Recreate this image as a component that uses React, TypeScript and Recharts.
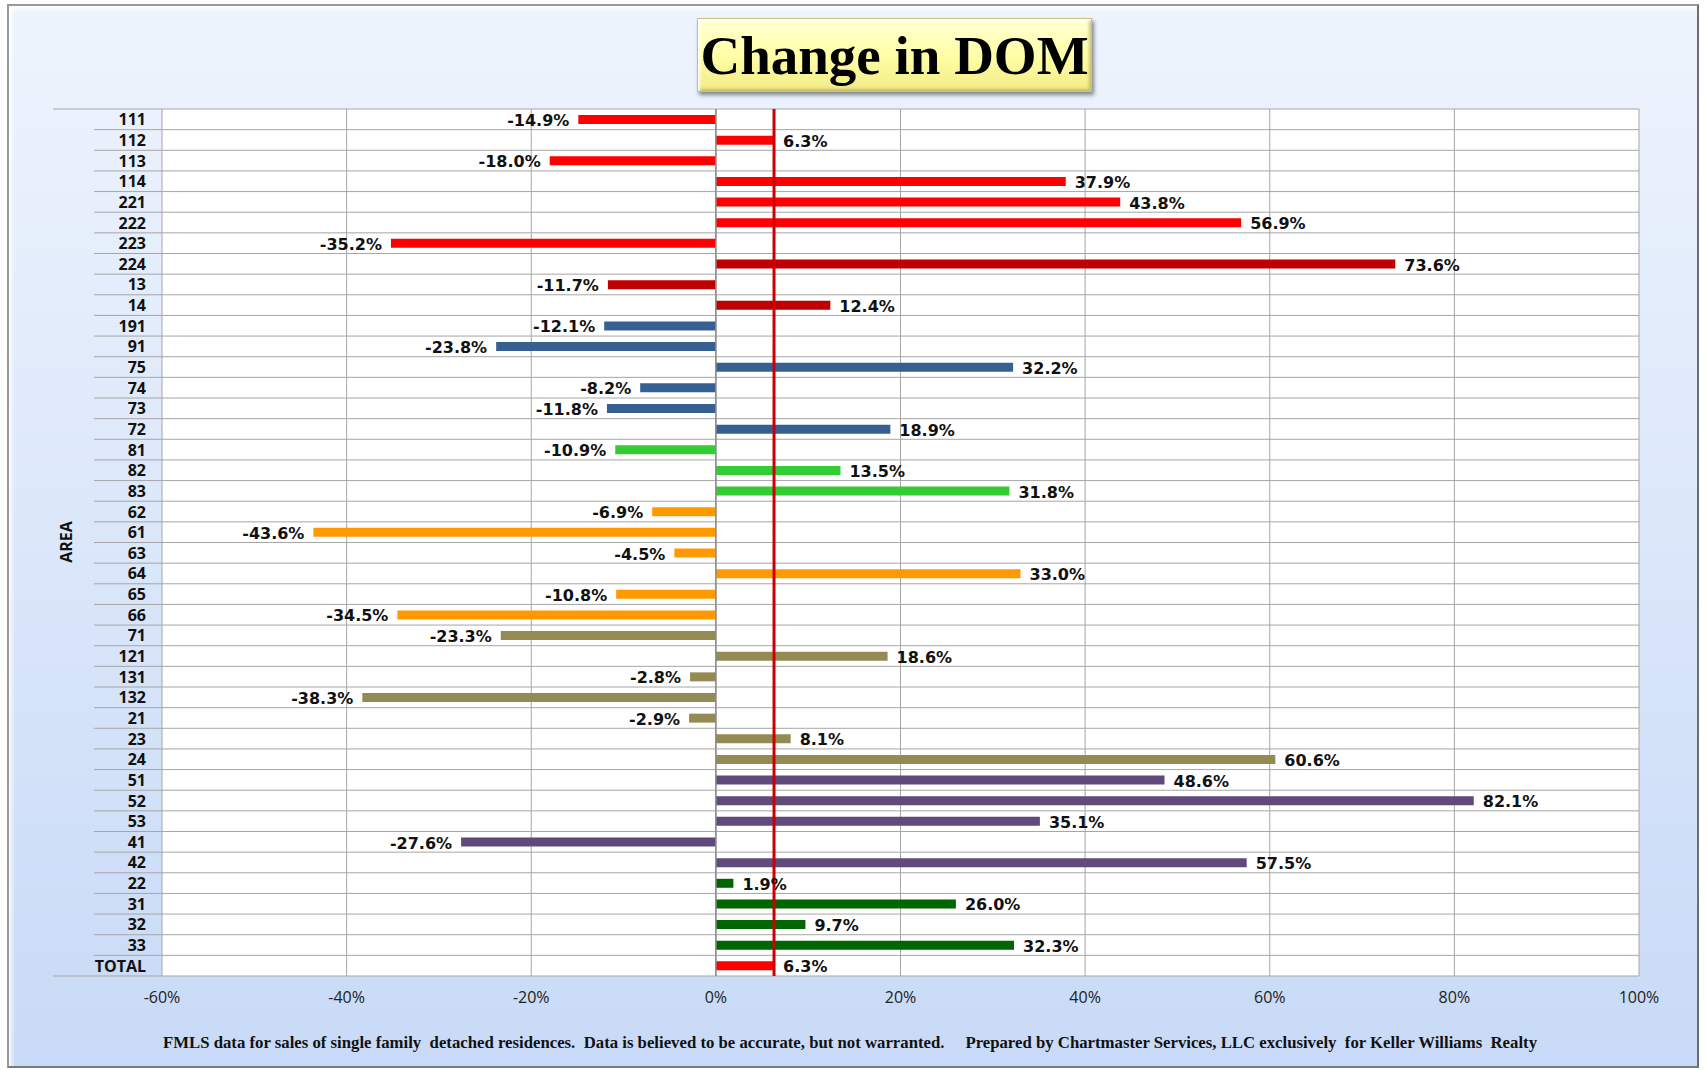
import React from 'react';
import {
  BarChart,
  Bar,
  XAxis,
  YAxis,
  CartesianGrid,
  Cell,
  LabelList,
  ReferenceLine,
} from 'recharts';

// Area codes, top to bottom as listed on the chart
const areas = [
  '111', '112', '113', '114', '221', '222', '223', '224', '13', '14',
  '191', '91', '75', '74', '73', '72', '81', '82', '83', '62',
  '61', '63', '64', '65', '66', '71', '121', '131', '132', '21',
  '23', '24', '51', '52', '53', '41', '42', '22', '31', '32',
  '33', 'TOTAL',
];

// Change in days on market (%)
const changes = [
  -14.9, 6.3, -18.0, 37.9, 43.8, 56.9, -35.2, 73.6, -11.7, 12.4,
  -12.1, -23.8, 32.2, -8.2, -11.8, 18.9, -10.9, 13.5, 31.8, -6.9,
  -43.6, -4.5, 33.0, -10.8, -34.5, -23.3, 18.6, -2.8, -38.3, -2.9,
  8.1, 60.6, 48.6, 82.1, 35.1, -27.6, 57.5, 1.9, 26.0, 9.7,
  32.3, 6.3,
];

const xTicks = [-60, -40, -20, 0, 20, 40, 60, 80, 100];

const footnote =
  'FMLS data for sales of single family  detached residences.  Data is believed to be accurate, but not warranted.     Prepared by Chartmaster Services, LLC exclusively  for Keller Williams  Realty';

// bar colours, one per row (styling only)
const RED = '#FF0000';
const DKRED = '#C00000';
const BLUE = '#376092';
const GREEN = '#33CC33';
const ORANGE = '#FF9900';
const OLIVE = '#948A54';
const PURPLE = '#604A7B';
const DKGREEN = '#006600';
const barColors = [
  RED, RED, RED, RED, RED, RED, RED, DKRED, DKRED, DKRED,
  BLUE, BLUE, BLUE, BLUE, BLUE, BLUE, GREEN, GREEN, GREEN, ORANGE,
  ORANGE, ORANGE, ORANGE, ORANGE, ORANGE, OLIVE, OLIVE, OLIVE, OLIVE, OLIVE,
  OLIVE, OLIVE, PURPLE, PURPLE, PURPLE, PURPLE, PURPLE, DKGREEN, DKGREEN, DKGREEN,
  DKGREEN, RED,
];

const data = areas.map((area, i) => ({ area, change: changes[i] }));

const W = 1706;
const H = 1070;
const PLOT_LEFT = 162;
const PLOT_RIGHT = 1639;
const PLOT_TOP = 109;
const PLOT_BOTTOM = 976;
const ROW_H = (PLOT_BOTTOM - PLOT_TOP) / areas.length;
const GRID = '#A6A6A6';

function AreaTick(props: any) {
  const { y, payload } = props;
  const idx = areas.indexOf(payload.value);
  const half = ROW_H / 2;
  const last = idx === areas.length - 1;
  return (
    <g>
      {idx === 0 && (
        <line x1={53} x2={PLOT_LEFT} y1={y - half} y2={y - half} stroke={GRID} />
      )}
      <line x1={last ? 53 : 94} x2={PLOT_LEFT} y1={y + half} y2={y + half} stroke={GRID} />
      <text
        x={146}
        y={y}
        textAnchor="end"
        dominantBaseline="central"
        fontFamily="'Open Sans', sans-serif"
        fontWeight={700}
        fontSize={16}
        fill="#111"
      >
        {payload.value}
      </text>
    </g>
  );
}

function ValueLabel(props: any) {
  const { x, y, width, height, value } = props;
  const left = Math.min(x, x + width);
  const right = Math.max(x, x + width);
  const neg = value < 0;
  return (
    <text
      x={neg ? left - 9 : right + 9}
      y={y + height / 2 + 1}
      textAnchor={neg ? 'end' : 'start'}
      dominantBaseline="central"
      fontFamily="'DejaVu Sans', sans-serif"
      fontWeight={700}
      fontSize={16}
      fill="#111"
    >
      {`${Number(value).toFixed(1)}%`}
    </text>
  );
}

export default function App() {
  const rowLines = (args: any) => {
    const top = args?.offset?.top ?? PLOT_TOP;
    const h = args?.offset?.height ?? PLOT_BOTTOM - PLOT_TOP;
    return Array.from({ length: areas.length + 1 }, (_, i) => top + (i * h) / areas.length);
  };

  return (
    <div style={{ position: 'absolute', left: 0, top: 0, width: W, height: H, background: '#fff' }}>
      {/* panel */}
      <div
        style={{
          position: 'absolute',
          left: 7,
          top: 4,
          width: 1688,
          height: 1060,
          border: '2px solid #9a9a9a',
          borderRightColor: '#6e6e6e',
          borderBottomColor: '#7a7a7a',
          background: 'linear-gradient(180deg, #EEF4FD 0%, #DDE8FA 45%, #C8DAF7 100%)',
          boxShadow: 'inset 3px 3px 4px rgba(255,255,255,0.9)',
        }}
      />

      {/* title box */}
      <div
        style={{
          position: 'absolute',
          left: 697,
          top: 18,
          width: 393,
          height: 72,
          background: 'linear-gradient(180deg, #FFFFD6 0%, #FFFFA8 50%, #F2EC86 100%)',
          border: '1px solid #C9C27A',
          boxShadow: '2px 3px 4px rgba(0,0,0,0.45), inset 2px 2px 3px rgba(255,255,255,0.9), inset -2px -2px 3px rgba(150,140,60,0.5)',
          display: 'flex',
          alignItems: 'center',
          justifyContent: 'center',
          fontFamily: "'Liberation Serif', serif",
          fontWeight: 700,
          fontSize: 55,
          color: '#000',
          lineHeight: 1,
        }}
      >
        Change in DOM
      </div>

      {/* y axis title */}
      <div
        style={{
          position: 'absolute',
          left: 66,
          top: 542,
          transform: 'translate(-50%, -50%) rotate(-90deg)',
          fontFamily: "'Open Sans', sans-serif",
          fontWeight: 700,
          fontSize: 16,
          color: '#111',
          whiteSpace: 'nowrap',
        }}
      >
        AREA
      </div>

      <div style={{ position: 'absolute', left: 0, top: 0 }}>
        <BarChart
          width={W}
          height={H}
          data={data}
          layout="vertical"
          margin={{ top: PLOT_TOP, right: W - PLOT_RIGHT, left: 52, bottom: 54 }}
        >
          <CartesianGrid
            stroke={GRID}
            fill="#fff"
            fillOpacity={1}
            horizontalCoordinatesGenerator={rowLines}
          />
          <XAxis
            type="number"
            domain={[-60, 100]}
            ticks={xTicks}
            tickFormatter={(v: number) => `${v}%`}
            axisLine={false}
            tickLine={false}
            tickSize={0}
            tickMargin={16}
            height={40}
            tick={{ fontFamily: "'Open Sans', sans-serif", fontSize: 16, fill: '#222' }}
          />
          <YAxis
            type="category"
            dataKey="area"
            width={110}
            axisLine={false}
            tickLine={false}
            interval={0}
            tick={<AreaTick />}
          />
          <ReferenceLine x={0} stroke="#8C8C8C" strokeWidth={1.5} />
          <Bar dataKey="change" barSize={9} isAnimationActive={false}>
            {data.map((d, i) => (
              <Cell key={d.area} fill={barColors[i]} />
            ))}
            <LabelList dataKey="change" content={<ValueLabel />} />
          </Bar>
          <ReferenceLine x={changes[changes.length - 1]} stroke="#CC0000" strokeWidth={3} />
        </BarChart>
      </div>

      {/* footnote */}
      <svg
        style={{ position: 'absolute', left: 0, top: 1025 }}
        width={W}
        height={34}
      >
        <text
          x={163}
          y={17}
          dominantBaseline="central"
          textLength={1374}
          lengthAdjust="spacingAndGlyphs"
          fontFamily="'Liberation Serif', serif"
          fontWeight={700}
          fontSize={16}
          fill="#111"
          xmlSpace="preserve"
        >
          {footnote}
        </text>
      </svg>
    </div>
  );
}
